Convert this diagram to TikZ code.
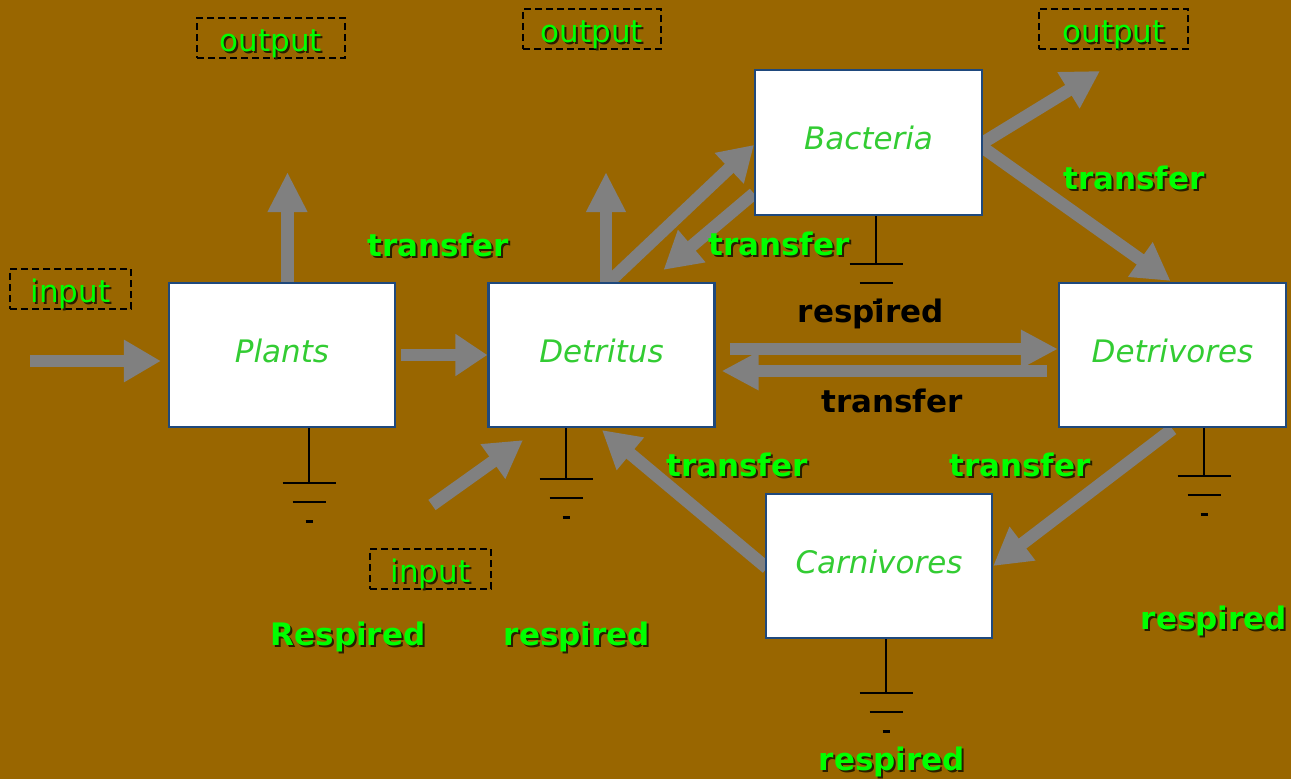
\documentclass[tikz,border=0pt]{standalone}
\usepackage{fontspec}
\setmainfont{DejaVu Sans}
\usetikzlibrary{arrows.meta}

\definecolor{bgbrown}{RGB}{153,102,0}
\definecolor{arrowgray}{RGB}{128,128,128}
\definecolor{edgeblue}{RGB}{31,73,125}
\definecolor{namegreen}{RGB}{51,204,51}
\definecolor{flowgreen}{RGB}{0,255,0}
\definecolor{shade}{RGB}{40,30,0}

% text with a dark drop shadow
\newcommand\shadowed[1]{\rlap{\kern2pt\raisebox{-2pt}{\textcolor{shade}{#1}}}#1}

\pgfdeclarelayer{backdrop}
\pgfdeclarelayer{flows}
\pgfsetlayers{backdrop,flows,main}

\tikzset{
  bigfont/.style={font=\fontsize{31}{36}\selectfont #1},
  compartment/.style={draw=edgeblue, line width=2.2pt, fill=white,
    minimum width=226pt, minimum height=144pt, inner sep=0pt,
    text=namegreen, bigfont=\itshape, text height=22pt, text depth=8pt},
  dashbox/.style={draw=black, line width=2pt, dash pattern=on 7pt off 4pt,
    text=flowgreen, bigfont, inner sep=0pt, minimum height=40pt,
    text height=28pt, text depth=1pt},
  flowlabel/.style={text=flowgreen, bigfont=\bfseries, inner sep=0pt},
  darklabel/.style={text=black, bigfont=\bfseries, inner sep=0pt},
  flow/.style={draw=arrowgray, line width=12.5pt,
    -{Triangle[length=37pt,width=40pt]}},
  uphead/.style={-{Triangle[length=40pt,width=37pt]}},
  flathead/.style={-{Triangle[length=37pt,width=36pt]}},
  gline/.style={draw=black, line width=2.6pt},
  pics/earth/.style={code={
    \draw[gline] (0,0) -- (0,#1);
    \draw[gline] (-26.5,#1) -- (26.5,#1);
    \draw[gline] (-16.5,#1+19) -- (16.5,#1+19);
    \draw[gline, line width=3pt] (-3.5,#1+38) -- (3.5,#1+38);
  }},
}

\begin{document}
\begin{tikzpicture}[x=1pt,y=-1pt]
\useasboundingbox (0,0) rectangle (1291,779);
\begin{pgfonlayer}{backdrop}
  \fill[bgbrown] (0,0) rectangle (1291,779);
\end{pgfonlayer}

% compartments
\node[compartment] (plants) at (282,355) {Plants};
\node[compartment] (detritus) at (601.5,355) {Detritus};
\node[compartment, minimum width=227pt, minimum height=145pt] (bacteria) at (868.5,142.5) {Bacteria};
\node[compartment, minimum width=227pt] (detrivores) at (1172.5,355) {Detrivores};
\node[compartment] (carnivores) at (879,566) {Carnivores};

% inputs and outputs
\node[dashbox, minimum width=148pt] (out1) at (271,38) {\shadowed{output}};
\node[dashbox, minimum width=138pt] (out2) at (592,29) {\shadowed{output}};
\node[dashbox, minimum width=149pt] (out3) at (1113.5,29) {\shadowed{output}};
\node[dashbox, minimum width=121pt] (in1) at (70.5,289) {\shadowed{input}};
\node[dashbox, minimum width=121pt] (in2) at (430.5,569) {\shadowed{input}};

% energy flows
\begin{pgfonlayer}{flows}
  \coordinate (inA) at (30,361);
  \draw[flow] (inA) -- ([shift={(-7,6)}]plants.west);
  \draw[flow, -{Triangle[length=32pt,width=40pt]}] ([shift={(5,0)}]plants.east) -- (detritus.west);
  \coordinate (plantsUp) at (287.5,172);
  \draw[flow, uphead] (plants.north -| plantsUp) -- (plantsUp);
  \coordinate (detritusUp) at (606,172);
  \draw[flow, uphead] (detritus.north -| detritusUp) -- (detritusUp);
  \draw[flow, -{Triangle[length=34pt,width=40pt]}] ([shift={(4.5,3)}]detritus.north) -- ([shift={(0,2.5)}]bacteria.west);
  \draw[flow] ([shift={(0,51)}]bacteria.west) -- ([shift={(62,-12)}]detritus.north);
  \coordinate (bacteriaUp) at (1100,71);
  \draw[flow] ([shift={(-4,2.5)}]bacteria.east) -- (bacteriaUp);
  \draw[flow] ([shift={(-4,2.5)}]bacteria.east) -- ([shift={(-2,-1)}]detrivores.north);
  \draw[flow, flathead] ([shift={(14,-6)}]detritus.east) -- ([shift={(0,-6)}]detrivores.west);
  \draw[flow, flathead] ([shift={(-11,16)}]detrivores.west) -- ([shift={(6,16)}]detritus.east);
  \coordinate (inB) at (432,505);
  \draw[flow] (inB) -- ([shift={(-78.5,12)}]detritus.south);
  \draw[flow] ([shift={(2,2)}]carnivores.west) -- ([shift={(0.5,2)}]detritus.south);
  \draw[flow] ([shift={(0,1)}]detrivores.south) -- (carnivores.east);
\end{pgfonlayer}

% respiration losses
\path ([shift={(27,0)}]plants.south) pic {earth=55};
\path ([shift={(-35.5,0)}]detritus.south) pic {earth=51};
\path ([shift={(7.5,0)}]bacteria.south) pic {earth=48};
\path ([shift={(31.5,0)}]detrivores.south) pic {earth=48};
\path ([shift={(7,0)}]carnivores.south) pic {earth=54};

% labels
\node[flowlabel] (trA) at (438,246) {\shadowed{transfer}};
\node[flowlabel] (trB) at (779,245) {\shadowed{transfer}};
\node[flowlabel] (trC) at (1134,178.5) {\shadowed{transfer}};
\node[darklabel] (resBac) at (871,314) {respired};
\node[darklabel] (trBack) at (892,401) {transfer};
\node[flowlabel] (trD) at (737,466) {\shadowed{transfer}};
\node[flowlabel] (trE) at (1020,466) {\shadowed{transfer}};
\node[flowlabel] (resA) at (348,638) {\shadowed{Respired}};
\node[flowlabel] (resB) at (577,638) {\shadowed{respired}};
\node[flowlabel] (resC) at (1214,622) {\shadowed{respired}};
\node[flowlabel] (resD) at (892,763) {\shadowed{respired}};
\end{tikzpicture}
\end{document}
